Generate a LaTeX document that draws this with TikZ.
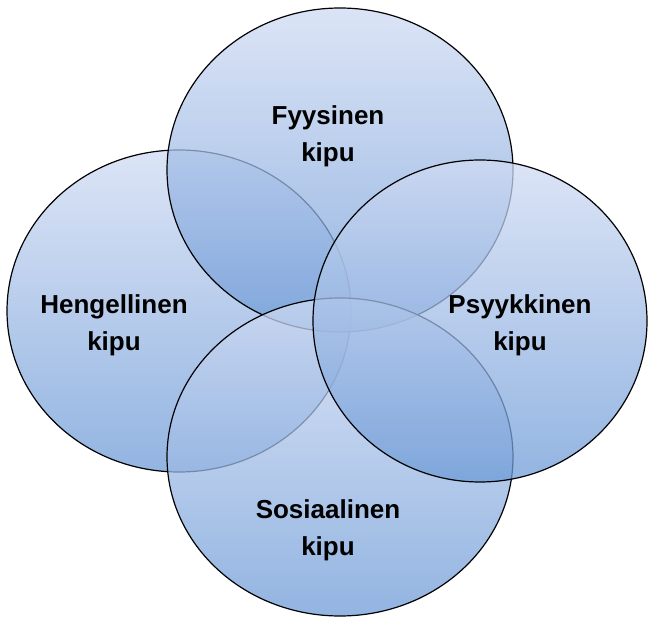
\documentclass[tikz,border=0pt]{standalone}
\usepackage{fontspec}
\setmainfont{Liberation Sans}
\definecolor{shadetop}{RGB}{208,219,243}
\definecolor{shadebot}{RGB}{110,155,215}
\begin{document}
\begin{tikzpicture}[x=1pt,y=-1pt,
  disc/.style={draw=black,line width=1.2pt,top color=shadetop,bottom color=shadebot,fill opacity=0.75},
  lbl/.style={font=\fontsize{26}{37}\selectfont\bfseries,align=center}]
\useasboundingbox (0,0) rectangle (648,617);

% drawn in this order so the outlines fade under the later discs
\path[disc] (179,311) ellipse [x radius=172pt,y radius=161pt];
\path[disc] (340,170) ellipse [x radius=173pt,y radius=162pt];
\path[disc] (340,457) ellipse [x radius=173pt,y radius=159pt];
\path[disc] (480,321) ellipse [x radius=167pt,y radius=161pt];

\node[lbl] (fyys) at (328,136) {Fyysinen\\kipu};
\node[lbl] (heng) at (114,325) {Hengellinen\\kipu};
\node[lbl] (psyk) at (520,325) {Psyykkinen\\kipu};
\node[lbl] (sosi) at (328,530) {Sosiaalinen\\kipu};
\end{tikzpicture}
\end{document}
